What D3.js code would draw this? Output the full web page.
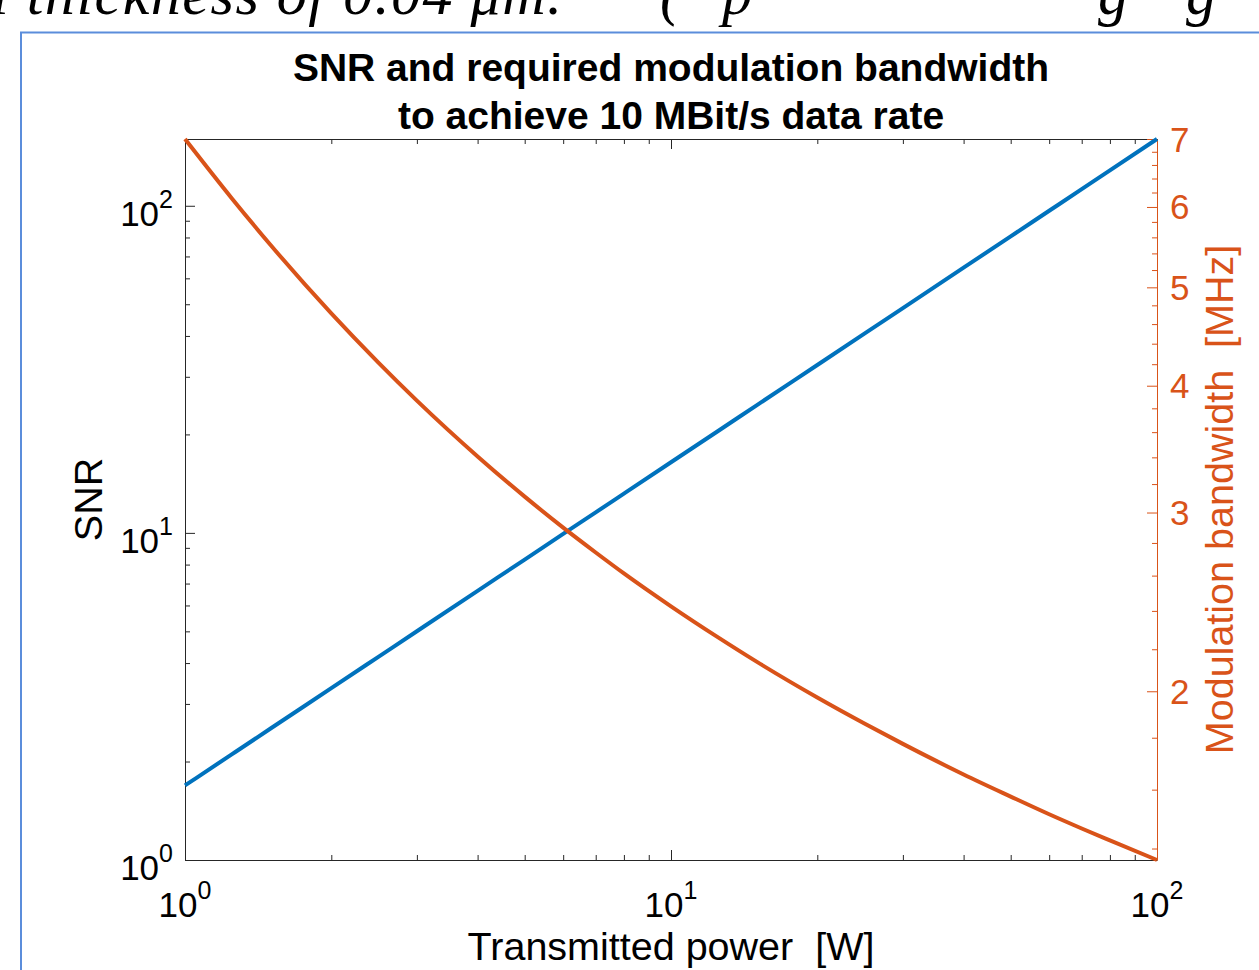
<!DOCTYPE html>
<html>
<head>
<meta charset="utf-8">
<script src="https://cdn.jsdelivr.net/npm/d3@7"></script>
<style>
body { margin: 0; background: #fff; }
svg { display: block; font-family: "Liberation Sans", Arial, Helvetica, sans-serif; }
</style>
</head>
<body>
<div id="chart-area"></div>
<script>
// SNR and bandwidth vs transmitted power
var power = [1, 1.25, 1.5, 2, 2.5, 3, 4, 5, 6, 7, 8, 10, 12.5, 15, 20, 25, 30, 40, 50, 60, 70, 80, 100];
var snr = [1.69, 2.107, 2.523, 3.352, 4.179, 5.004, 6.649, 8.288, 9.926, 11.556, 13.187, 16.44, 20.49, 24.54, 32.6, 40.64, 48.67, 64.68, 80.63, 96.53, 112.4, 128.3, 160];
var bandwidth = [7.0, 6.114, 5.504, 4.713, 4.215, 3.867, 3.407, 3.110, 2.899, 2.740, 2.613, 2.425, 2.260, 2.139, 1.972, 1.859, 1.775, 1.656, 1.575, 1.513, 1.465, 1.426, 1.364];

var xMajor = [1, 10, 100];
var xMinor = [2, 3, 4, 5, 6, 7, 8, 9, 20, 30, 40, 50, 60, 70, 80, 90];
var snrMajor = [1, 10, 100];
var snrMinor = [2, 3, 4, 5, 6, 7, 8, 9, 20, 30, 40, 50, 60, 70, 80, 90];
var bwMajor = [2, 3, 4, 5, 6, 7];
var bwMinor = [1.4, 1.6, 1.8, 2.2, 2.4, 2.6, 2.8, 3.2, 3.4, 3.6, 3.8, 4.2, 4.4, 4.6, 4.8, 5.2, 5.4, 5.6, 5.8, 6.2, 6.4, 6.6, 6.8];

var titleLines = ["SNR and required modulation bandwidth", "to achieve 10 MBit/s data rate"];
// bits of the page text cut off above the figure
var pageWords = ["ı thickness of 0.04 μm.", "(", "p", "g", "g"];
var pageWordX = [-8, 660, 722, 1098, 1186];

var blue = "#0072BD", orange = "#D95319", axisColor = "#262626";

var margin = {left: 185, right: 102, top: 139, bottom: 110};
var fullW = 1259, fullH = 970;
var width = fullW - margin.left - margin.right,
    height = fullH - margin.top - margin.bottom;

var svg = d3.select("#chart-area").append("svg")
    .attr("width", fullW)
    .attr("height", fullH);

svg.selectAll(".page")
    .data(pageWords)
    .enter().append("text")
    .attr("class", "page")
    .attr("x", (d, i) => pageWordX[i])
    .attr("y", 14)
    .attr("font-family", "'Liberation Serif', 'DejaVu Serif', serif")
    .attr("font-style", "italic")
    .attr("font-size", "60px")
    .attr("textLength", (d, i) => i == 0 ? 570 : null)
    .text(d => d);

// figure frame
svg.append("rect")
    .attr("x", 21)
    .attr("y", 32.5)
    .attr("width", 1300)
    .attr("height", 1000)
    .attr("fill", "#fff")
    .attr("stroke", "#5b8ddb")
    .attr("stroke-width", 2);

var g = svg.append("g").attr("transform", "translate(" + margin.left + ", " + margin.top + ")");

var x = d3.scaleLog().domain([1, 100]).range([0, width]);
var yL = d3.scaleLog().domain([1, 160]).range([height, 0]);
var yR = d3.scaleLog().domain([1.364, 7]).range([height, 0]);

// title
g.selectAll(".title")
    .data(titleLines)
    .enter().append("text")
    .attr("class", "title")
    .attr("x", width / 2)
    .attr("y", (d, i) => -58 + i * 48)
    .attr("text-anchor", "middle")
    .attr("font-size", "39px")
    .attr("font-weight", "bold")
    .style("fill", "black")
    .text(d => d);

// bottom axis
var xAxis = g.append("g").attr("transform", "translate(0, " + height + ")");
xAxis.call(d3.axisBottom(x).tickValues(xMajor).tickSize(-10).tickSizeOuter(0).tickFormat(""));
xAxis.append("g").call(d3.axisBottom(x).tickValues(xMinor).tickSize(-5).tickSizeOuter(0).tickFormat(""))
    .select(".domain").remove();
// top mirror
var xTop = g.append("g");
xTop.call(d3.axisTop(x).tickValues(xMajor).tickSize(-10).tickSizeOuter(0).tickFormat(""));
xTop.append("g").call(d3.axisTop(x).tickValues(xMinor).tickSize(-5).tickSizeOuter(0).tickFormat(""))
    .select(".domain").remove();

// left axis
var yAxisL = g.append("g");
yAxisL.call(d3.axisLeft(yL).tickValues(snrMajor).tickSize(-10).tickSizeOuter(0).tickFormat(""));
yAxisL.append("g").call(d3.axisLeft(yL).tickValues(snrMinor).tickSize(-5).tickSizeOuter(0).tickFormat(""))
    .select(".domain").remove();

// right axis
var yAxisR = g.append("g").attr("transform", "translate(" + width + ", 0)");
yAxisR.call(d3.axisRight(yR).tickValues(bwMajor).tickSize(-10).tickSizeOuter(0).tickFormat(""));
yAxisR.append("g").call(d3.axisRight(yR).tickValues(bwMinor).tickSize(-5).tickSizeOuter(0).tickFormat(""))
    .select(".domain").remove();

xAxis.selectAll(".domain, line").attr("stroke", axisColor);
xTop.selectAll(".domain, line").attr("stroke", axisColor);
yAxisL.selectAll(".domain, line").attr("stroke", axisColor);
yAxisR.selectAll(".domain, line").attr("stroke", orange);

// tick labels with exponents
function powLabel(sel, d) {
    sel.append("tspan").text("10");
    sel.append("tspan")
        .attr("dy", -18)
        .attr("font-size", "25px")
        .text(Math.round(Math.log10(d)));
}

g.selectAll(".xlab")
    .data(xMajor)
    .enter().append("text")
    .attr("class", "xlab")
    .attr("x", d => x(d))
    .attr("y", height + 57)
    .attr("text-anchor", "middle")
    .attr("font-size", "35px")
    .style("fill", "black")
    .each(function(d) { powLabel(d3.select(this), d); });

g.selectAll(".ylab")
    .data(snrMajor)
    .enter().append("text")
    .attr("class", "ylab")
    .attr("x", -12)
    .attr("y", d => yL(d) + 20)
    .attr("text-anchor", "end")
    .attr("font-size", "35px")
    .style("fill", "black")
    .each(function(d) { powLabel(d3.select(this), d); });

g.selectAll(".rlab")
    .data(bwMajor)
    .enter().append("text")
    .attr("class", "rlab")
    .attr("x", width + 13)
    .attr("y", d => yR(d) + 12.5)
    .attr("font-size", "35px")
    .style("fill", orange)
    .text(d => d);

// axis titles
g.append("text")
    .attr("x", width / 2)
    .attr("y", height + 100)
    .attr("text-anchor", "middle")
    .attr("font-size", "39.5px")
    .style("fill", "black")
    .style("white-space", "pre")
    .text("Transmitted power  [W]");

g.append("text")
    .attr("transform", "translate(-83, " + (height / 2) + ") rotate(-90)")
    .attr("text-anchor", "middle")
    .attr("font-size", "39.5px")
    .style("fill", "black")
    .text("SNR");

g.append("text")
    .attr("transform", "translate(" + (width + 76) + ", " + (height / 2) + ") rotate(-90)")
    .attr("text-anchor", "middle")
    .attr("font-size", "39.5px")
    .style("fill", orange)
    .style("white-space", "pre")
    .text("Modulation bandwidth  [MHz]");

// lines
var snrLine = d3.line()
    .x((d, i) => x(power[i]))
    .y(d => yL(d))
    .curve(d3.curveMonotoneX);
var bwLine = d3.line()
    .x((d, i) => x(power[i]))
    .y(d => yR(d))
    .curve(d3.curveMonotoneX);

g.append("path")
    .datum(snr)
    .attr("d", snrLine)
    .attr("fill", "none")
    .attr("stroke", blue)
    .attr("stroke-width", 4);

g.append("path")
    .datum(bandwidth)
    .attr("d", bwLine)
    .attr("fill", "none")
    .attr("stroke", orange)
    .attr("stroke-width", 4);
</script>
</body>
</html>
